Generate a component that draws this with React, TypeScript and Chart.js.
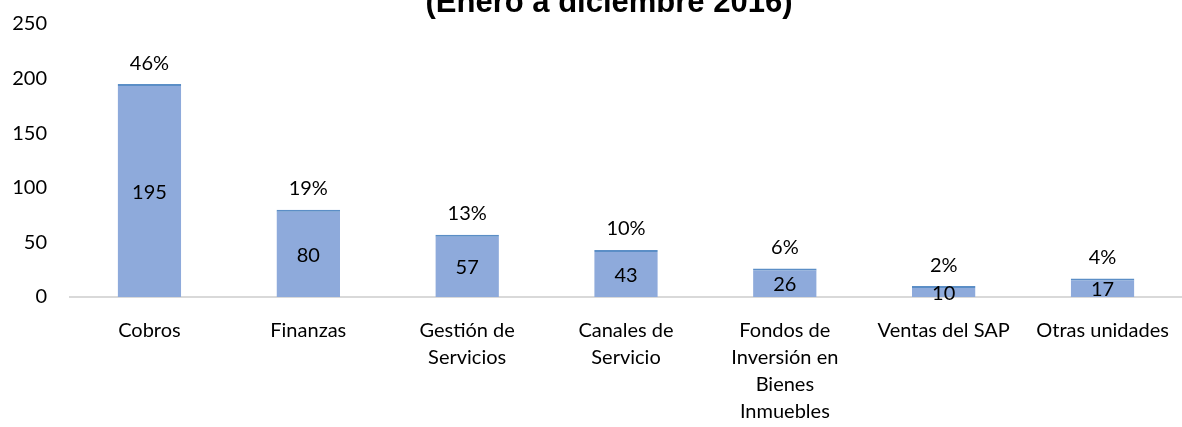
import React, { useEffect, useRef } from "react";
import { Chart, registerables } from "chart.js";

Chart.register(...registerables);

const categories: (string | string[])[] = [
  "Cobros",
  "Finanzas",
  ["Gestión de", "Servicios"],
  ["Canales de", "Servicio"],
  ["Fondos de", "Inversión en", "Bienes", "Inmuebles"],
  "Ventas del SAP",
  "Otras unidades",
];
const values = [195, 80, 57, 43, 26, 10, 17];
const pctLabels = ["46%", "19%", "13%", "10%", "6%", "2%", "4%"];
const titleText = "(Enero a diciembre 2016)";

const FONT = "Lato, 'Open Sans', sans-serif";

const labelsPlugin = {
  id: "barLabels",
  afterDatasetsDraw(chart: any) {
    const ctx = chart.ctx;
    const meta = chart.getDatasetMeta(0);
    ctx.save();
    ctx.font = `20px ${FONT}`;
    ctx.fillStyle = "#000";
    ctx.textAlign = "center";
    ctx.textBaseline = "middle";
    meta.data.forEach((bar: any, i: number) => {
      const mid = (bar.y + bar.base) / 2;
      ctx.fillText(String(values[i]), bar.x, mid + 2);
      ctx.fillText(pctLabels[i], bar.x, bar.y - 21);
    });
    ctx.restore();
  },
};

const titlePlugin = {
  id: "clippedTitle",
  afterDraw(chart: any) {
    const ctx = chart.ctx;
    ctx.save();
    ctx.font = `bold 31px 'Liberation Sans', Arial, sans-serif`;
    ctx.fillStyle = "#000";
    ctx.textAlign = "center";
    ctx.textBaseline = "alphabetic";
    ctx.fillText(titleText, 609, 12);
    ctx.restore();
  },
};

export default function App() {
  const ref = useRef<HTMLCanvasElement>(null);
  useEffect(() => {
    document.body.style.margin = "0";
    const chart = new Chart(ref.current!, {
      type: "bar",
      data: {
        labels: categories as any,
        datasets: [
          {
            data: values,
            backgroundColor: "#8eaadb",
            borderColor: "#5b8ec6",
            borderWidth: { top: 2, left: 0, right: 0, bottom: 0 },
            borderSkipped: "start",
            barPercentage: 0.4,
            categoryPercentage: 1,
          },
        ],
      },
      options: {
        responsive: false,
        animation: false,
        layout: { padding: { top: 24, right: 0, left: 0, bottom: 0 } },
        plugins: {
          legend: { display: false },
          title: { display: false },
          tooltip: { enabled: false },
        },
        scales: {
          x: {
            grid: { display: false, drawTicks: false },
            border: { display: true, color: "#d9d9d9", width: 2 },
            ticks: {
              color: "#000",
              font: { family: FONT, size: 20, lineHeight: 1.35 },
              padding: 20,
              maxRotation: 0,
              autoSkip: false,
            },
            afterFit(scale: any) {
              scale.height = 130;
              scale.paddingLeft = 0;
              scale.paddingRight = 0;
            },
          },
          y: {
            min: 0,
            max: 250,
            grid: { display: false, drawTicks: false },
            border: { display: false },
            ticks: {
              stepSize: 50,
              color: "#000",
              font: { family: FONT, size: 20 },
              padding: 23,
            },
            afterFit(scale: any) {
              scale.width = 70;
              scale.paddingTop = 0;
              scale.paddingBottom = 0;
            },
          },
        },
      },
      plugins: [labelsPlugin, titlePlugin],
    });
    return () => chart.destroy();
  }, []);
  return <canvas ref={ref} width={1182} height={427} style={{ display: "block" }} />;
}
